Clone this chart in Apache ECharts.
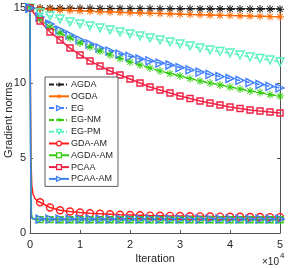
<!DOCTYPE html>
<html><head><meta charset="utf-8">
<script src="https://cdn.jsdelivr.net/npm/echarts@6/dist/echarts.min.js"></script>
<style>html,body{margin:0;padding:0;background:#fff}#c{width:289px;height:268px}</style>
</head><body><div id="c"></div>
<script>
// ---- data ----
const iters = [0,2000,4000,6000,8000,10000,12000,14000,16000,18000,20000,22000,24000,26000,28000,30000,32000,34000,36000,38000,40000,42000,44000,46000,48000,50000];
const AGDA  = [15,15,14.99,14.99,14.98,14.98,14.98,14.97,14.97,14.97,14.96,14.96,14.96,14.95,14.95,14.95,14.95,14.94,14.94,14.94,14.94,14.93,14.93,14.93,14.93,14.92];
const OGDA  = [15,14.95,14.91,14.87,14.84,14.81,14.78,14.75,14.73,14.71,14.69,14.67,14.65,14.63,14.61,14.59,14.57,14.55,14.53,14.51,14.5,14.48,14.46,14.45,14.43,14.42];
const EG    = [15,14.4,13.93,13.53,13.2,12.87,12.6,12.33,12.13,11.93,11.77,11.6,11.47,11.33,11.2,11.03,10.87,10.73,10.57,10.43,10.3,10.17,10.03,9.9,9.77,9.67];
const EG_NM = [15,14.27,13.73,13.33,13.0,12.67,12.4,12.13,11.87,11.63,11.4,11.2,11.0,10.8,10.63,10.47,10.3,10.13,10.0,9.87,9.73,9.6,9.47,9.37,9.23,9.13];
const EG_PM = [15,14.67,14.47,14.27,14.07,13.93,13.8,13.67,13.53,13.4,13.27,13.13,13.0,12.87,12.73,12.6,12.47,12.33,12.2,12.1,12.0,11.87,11.73,11.63,11.53,11.4];
const PCAA  = [15,14.13,13.4,12.87,12.33,11.87,11.47,11.13,10.8,10.53,10.27,10.0,9.73,9.53,9.33,9.13,8.97,8.8,8.67,8.53,8.4,8.3,8.2,8.13,8.07,8.0];
// fast-dropping (AM) series: early samples + values at iters
const GDA_AM_earlyIters  = [100,200,350,600,1000,1500];
const GDA_AM_early       = [8.5,4.8,3.2,2.6,2.3,2.12];
const GDA_AM  = [15,2.05,1.7,1.52,1.43,1.37,1.32,1.28,1.25,1.22,1.2,1.18,1.16,1.15,1.14,1.13,1.12,1.11,1.1,1.09,1.08,1.08,1.07,1.07,1.06,1.06];
const AGDA_AM_earlyIters = [100,200,300,500,1000];
const AGDA_AM_early      = [7,2.5,1.2,0.95,0.9];
const AGDA_AM = [15,0.89,0.89,0.88,0.88,0.88,0.88,0.88,0.88,0.88,0.88,0.88,0.88,0.88,0.88,0.88,0.88,0.88,0.88,0.88,0.88,0.88,0.88,0.88,0.88,0.88];
const PCAA_AM_earlyIters = [100,200,300,500,1000];
const PCAA_AM_early      = [6,1.8,1.0,0.95,0.93];
const PCAA_AM = [15,0.93,0.93,0.93,0.93,0.93,0.93,0.93,0.93,0.93,0.93,0.93,0.93,0.93,0.93,0.93,0.93,0.93,0.93,0.93,0.93,0.93,0.93,0.93,0.93,0.93];
const names = ['AGDA','OGDA','EG','EG-NM','EG-PM','GDA-AM','AGDA-AM','PCAA','PCAA-AM'];
const xTicks = [0,1,2,3,4,5];

// ---- build ----
const ast = 'path://M4.4 0L5.6 0L5.6 10L4.4 10Z M0 4.4L10 4.4L10 5.6L0 5.6Z M1.9 1.1L8.9 8.1L8.1 8.9L1.1 1.9Z M8.1 1.1L8.9 1.9L1.9 8.9L1.1 8.1Z';
function plain(ys){ return iters.map((x,i)=>[x, ys[i]]); }
function withEarly(ys, eIt, eY){
  const d = [[iters[0], ys[0]]];
  eIt.forEach((x,i)=>d.push({value:[x,eY[i]], symbol:'none'}));
  for(let i=1;i<iters.length;i++) d.push([iters[i], ys[i]]);
  return d;
}
const dashDot = [5,2,1,2];
const legendItems = [];
function S(name, data, color, symbol, size, opts){
  opts = opts || {};
  const hollow = opts.hollow;
  const itemStyle = hollow ? {color:'rgba(255,255,255,0)', borderColor:color, borderWidth:1.4} : {color, borderWidth:0};
  legendItems.push({name, itemStyle: hollow ? {color:'#fff', borderColor:color, borderWidth:1.3} : {color, borderWidth:0}});
  return {
    name, type:'line', data, symbol, symbolSize: size, symbolRotate: opts.rot||0,
    showAllSymbol: true,
    lineStyle:{color, width:1.5, type: opts.dash ? dashDot : 'solid'},
    itemStyle,
    emphasis:{disabled:true}, z: opts.z||2
  };
}
const series = [
  S('AGDA', plain(AGDA), '#1a1a1a', ast, 8, {dash:true}),
  S('OGDA', plain(OGDA), '#ff6a00', ast, 8, {}),
  S('EG', plain(EG), '#3f7fff', 'triangle', 8, {dash:true, hollow:true, rot:-90}),
  S('EG-NM', plain(EG_NM), '#33cc11', ast, 8, {dash:true}),
  S('EG-PM', plain(EG_PM), '#5cf2c2', 'triangle', 8, {dash:true, hollow:true, rot:180}),
  S('GDA-AM', withEarly(GDA_AM, GDA_AM_earlyIters, GDA_AM_early), '#ff1f1f', 'circle', 7, {hollow:true}),
  S('AGDA-AM', withEarly(AGDA_AM, AGDA_AM_earlyIters, AGDA_AM_early), '#33cc11', 'rect', 6, {hollow:true}),
  S('PCAA', plain(PCAA), '#ee2244', 'rect', 6, {hollow:true}),
  S('PCAA-AM', withEarly(PCAA_AM, PCAA_AM_earlyIters, PCAA_AM_early), '#3f7fea', 'triangle', 8, {hollow:true, rot:-90})
];
const axCol = '#555';
const font = 'Liberation Sans, Arial, Helvetica, sans-serif';
const option = {
  animation:false,
  textStyle:{fontFamily:font},
  grid:{left:30, right:9, top:8, bottom:35},
  xAxis:[
    {type:'value', min:0, max:50000, interval:10000,
     axisLine:{show:true, onZero:false, lineStyle:{color:axCol, width:1}},
     axisTick:{show:true, inside:true, length:3, lineStyle:{color:axCol}},
     axisLabel:{fontSize:11, color:'#262626', margin:6, fontFamily:font, formatter:(v)=>String(xTicks[Math.round(v/10000)])},
     splitLine:{show:false}},
    {type:'value', position:'top', min:0, max:50000, interval:10000,
     axisLine:{show:true, onZero:false, lineStyle:{color:axCol, width:1}},
     axisTick:{show:true, inside:true, length:3, lineStyle:{color:axCol}},
     axisLabel:{show:false}, splitLine:{show:false}}
  ],
  yAxis:[
    {type:'value', min:0, max:15, interval:5,
     axisLine:{show:true, onZero:false, lineStyle:{color:axCol, width:1}},
     axisTick:{show:true, inside:true, length:3, lineStyle:{color:axCol}},
     axisLabel:{fontSize:11, color:'#262626', margin:4, fontFamily:font},
     splitLine:{show:false}},
    {type:'value', position:'right', min:0, max:15, interval:5,
     axisLine:{show:true, onZero:false, lineStyle:{color:axCol, width:1}},
     axisTick:{show:true, inside:true, length:3, lineStyle:{color:axCol}},
     axisLabel:{show:false}, splitLine:{show:false}}
  ],
  legend:{
    data:legendItems, orient:'vertical', left:45, top:77,
    itemWidth:20, itemHeight:6, itemGap:2.8,
    padding:[3,5,3,3], borderColor:'#333', borderWidth:0.8, backgroundColor:'#fff',
    textStyle:{fontSize:9, color:'#262626', fontFamily:font, lineHeight:9, padding:[0,0,0,-3]},
    selectedMode:false
  },
  graphic:[
    {type:'text', style:{text:'Iteration', fontSize:11, fill:'#262626', fontFamily:font, x:155, y:259, textAlign:'center', textVerticalAlign:'middle'}},
    {type:'text', style:{text:'×10', fontSize:10, fill:'#262626', fontFamily:font, x:262, y:262, textAlign:'left', textVerticalAlign:'middle'}},
    {type:'text', style:{text:'4', fontSize:8, fill:'#262626', fontFamily:font, x:280, y:256, textAlign:'left', textVerticalAlign:'middle'}},
    {type:'text', rotation:Math.PI/2, x:9, y:120, style:{text:'Gradient norms', fontSize:11, fill:'#262626', fontFamily:font, textAlign:'center', textVerticalAlign:'middle'}}
  ],
  series
};
const chart = echarts.init(document.getElementById('c'), null, {renderer:'canvas'});
chart.setOption(option);
</script></body></html>
